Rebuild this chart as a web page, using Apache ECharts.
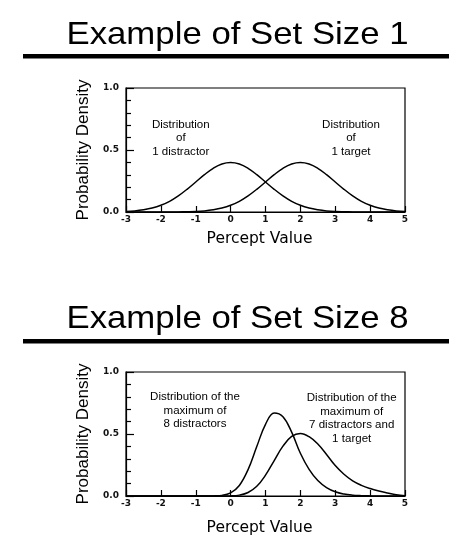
<!DOCTYPE html>
<html>
<head>
<meta charset="utf-8">
<script src="https://cdn.jsdelivr.net/npm/echarts@6/dist/echarts.min.js"></script>
<style>
html,body{margin:0;padding:0;background:#fff;}
#chart{width:454px;height:547px;}
</style>
</head>
<body>
<div id="chart"></div>
<script>
// ---- data ----
const titles = ['Example of Set Size 1', 'Example of Set Size 8'];
const percept = [-3,-2.75,-2.5,-2.25,-2,-1.75,-1.5,-1.25,-1,-0.75,-0.5,-0.25,0,0.25,0.5,0.75,1,1.25,1.5,1.75,2,2.25,2.5,2.75,3,3.25,3.5,3.75,4,4.25,4.5,4.75,5];
// Set size 1
const oneDistractor = [0.004,0.009,0.018,0.032,0.054,0.086,0.130,0.183,0.242,0.301,0.352,0.387,0.399,0.387,0.352,0.301,0.242,0.183,0.130,0.086,0.054,0.032,0.018,0.009,0.004,0.002,0.001,0,0,0,0,0,0];
const oneTarget =     [0,0,0,0,0,0,0.001,0.002,0.004,0.009,0.018,0.032,0.054,0.086,0.130,0.183,0.242,0.301,0.352,0.387,0.399,0.387,0.352,0.301,0.242,0.183,0.130,0.086,0.054,0.032,0.018,0.009,0.004];
// Set size 8
const maxOf8Distractors = [0,0,0,0,0,0,0,0,0,0,0.001,0.005,0.025,0.085,0.213,0.399,0.578,0.669,0.639,0.515,0.345,0.215,0.125,0.068,0.034,0.016,0.007,0.003,0.001,0,0,0,0];
const maxOf7Distractors1Target = [0,0,0,0,0,0,0,0,0,0,0,0,0.001,0.007,0.028,0.078,0.168,0.286,0.402,0.480,0.504,0.478,0.419,0.335,0.245,0.175,0.122,0.086,0.060,0.040,0.024,0.010,0.003];
const yLabels = ['0.0', '0.5', '1.0'];
const xName = 'Percept Value';
const yName = 'Probability Density';
const notes = [
  {text: 'Distribution\nof\n1 distractor', x: 180.8, y: 138.4, lh: 13.3},
  {text: 'Distribution\nof\n1 target', x: 351, y: 138.6, lh: 13.5},
  {text: 'Distribution of the\nmaximum of\n8 distractors', x: 195, y: 410.8, lh: 13.3},
  {text: 'Distribution of the\nmaximum of\n7 distractors and\n1 target', x: 351.7, y: 418.7, lh: 13.5}
];

const chart = echarts.init(document.getElementById('chart'), null, {renderer: 'canvas'});
const tickFont = {fontFamily: 'DejaVu Sans', fontSize: 9, fontWeight: 'bold', color: '#111'};

function xAxis(gridIndex, gap) {
  return {
    type: 'value', gridIndex, min: -3, max: 5, interval: 1,
    axisLine: {show: true, onZero: false, lineStyle: {color: '#000', width: 1.2}},
    axisTick: {show: true, inside: true, length: 6, lineStyle: {color: '#000', width: 1.2}},
    axisLabel: Object.assign({margin: 3}, tickFont),
    splitLine: {show: false},
    name: xName, nameLocation: 'middle', nameGap: gap,
    nameTextStyle: {fontFamily: 'DejaVu Sans', fontSize: 15.5, color: '#000', padding: [0, 12, 0, 0]}
  };
}
function yAxis(gridIndex) {
  return {
    type: 'value', gridIndex, min: 0, max: 1, interval: 0.5,
    axisLine: {show: true, onZero: false, lineStyle: {color: '#000', width: 1.2}},
    axisTick: {show: true, inside: true, length: 8, lineStyle: {color: '#000', width: 1.2}},
    minorTick: {show: true, splitNumber: 5, length: 5, lineStyle: {color: '#000', width: 1.2}},
    axisLabel: Object.assign({margin: 7, formatter: v => yLabels[Math.round(v * 2)]}, tickFont),
    splitLine: {show: false}, minorSplitLine: {show: false},
    name: yName, nameLocation: 'middle', nameGap: 34, nameRotate: 90,
    nameTextStyle: {fontFamily: 'Liberation Sans', fontSize: 17, color: '#000'}
  };
}
function line(idx, arr) {
  return {
    type: 'line', xAxisIndex: idx, yAxisIndex: idx, smooth: 0.4, symbol: 'none',
    lineStyle: {color: '#000', width: 1.5}, silent: true,
    data: percept.map((x, i) => [x, arr[i]])
  };
}

const graphic = [];
const titleBase = [36, 319.5];
const barY = [54, 339];
titles.forEach((t, i) => {
  graphic.push({type: 'text', x: 237.5, y: titleBase[i], scaleX: 1.14,
    style: {text: t, font: '30.5px "Liberation Sans"', fill: '#000', textAlign: 'center', textVerticalAlign: 'middle'}});
  graphic.push({type: 'rect', shape: {x: 23, y: barY[i], width: 426, height: 4.6}, style: {fill: '#000'}});
});
notes.forEach(n => {
  graphic.push({type: 'text', x: n.x, y: n.y, scaleX: 1.1,
    style: {text: n.text, font: '10.5px "Liberation Sans"', lineHeight: n.lh, fill: '#000', textAlign: 'center', textVerticalAlign: 'middle'}});
});

chart.setOption({
  animation: false,
  backgroundColor: '#fff',
  grid: [
    {left: 126, top: 88, width: 279, height: 124, show: true, borderColor: '#000', borderWidth: 1.2},
    {left: 126, top: 372, width: 279, height: 124, show: true, borderColor: '#000', borderWidth: 1.2}
  ],
  xAxis: [xAxis(0, 19), xAxis(1, 24)],
  yAxis: [yAxis(0), yAxis(1)],
  series: [
    line(0, oneDistractor), line(0, oneTarget),
    line(1, maxOf8Distractors), line(1, maxOf7Distractors1Target)
  ],
  graphic
});
</script>
</body>
</html>
